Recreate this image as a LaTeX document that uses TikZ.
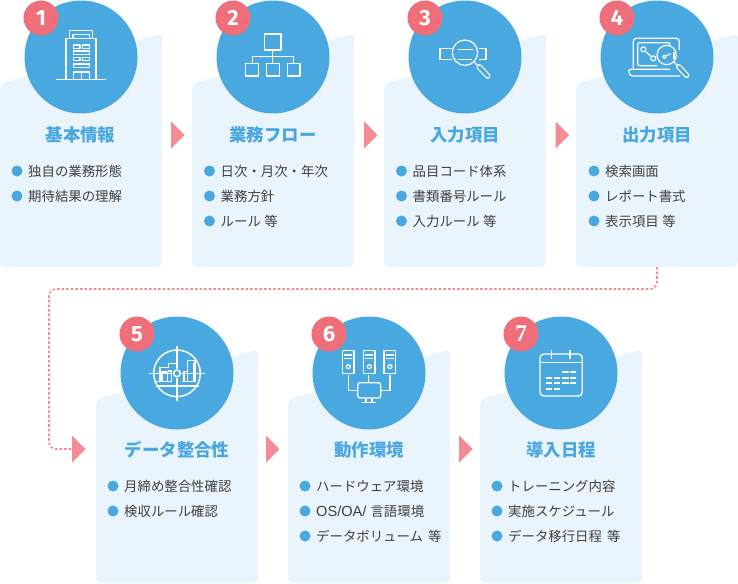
\documentclass[tikz,border=0pt]{standalone}
\usepackage{fontspec}
\setmainfont{Noto Sans CJK JP}
\newfontfamily\numfont{Fira Sans}
\newfontfamily\slabfont{Liberation Serif}
\newfontfamily\latinfont{Liberation Sans}
\definecolor{cardbg}{HTML}{EAF4FC}
\definecolor{mainblue}{HTML}{4AA8E0}
\definecolor{badgered}{HTML}{EE6F7A}
\definecolor{arrowpink}{HTML}{F48B95}
\definecolor{bodytext}{HTML}{3F3F3F}
\tikzset{
  cardshape/.style={fill=cardbg,rounded corners=5pt},
  bigdisc/.style={circle,fill=mainblue,minimum size=113pt,inner sep=0pt},
  badge/.style={circle,fill=badgered,minimum size=35pt,inner sep=0pt,text=white,font=\numfont\bfseries\fontsize{22}{22}\selectfont},
  titletext/.style={text=mainblue,font=\bfseries\fontsize{17.4}{20}\selectfont,inner sep=0pt},
  bullet/.style={circle,fill=mainblue,minimum size=11pt,inner sep=0pt},
  itemtext/.style={text=bodytext,font=\fontsize{13.4}{16}\selectfont,anchor=west,inner sep=0pt},
  flowarrow/.style={fill=arrowpink},
  dashline/.style={draw=arrowpink,line width=1.6pt,dash pattern=on 2.6pt off 2pt,rounded corners=7pt},
  iconline/.style={draw=white,line width=1.2pt,line join=round},
  zoomed/.style={x=0.33333pt,y=-0.33333pt},
}
\newcommand{\carda}[2]{\fill[cardshape] (#1,#2+84) -- (#1+162,#2+33) -- (#1+162,#2+267) -- (#1,#2+267) -- cycle;}
\newcommand{\flowtri}[2]{\fill[flowarrow] (#1,#2-13.5) -- (#1+13.5,#2) -- (#1,#2+13.5) -- cycle;}
\newcommand{\bulletrow}[4]{\node[bullet] (#1b) at (#2,#3) {}; \node[itemtext] (#1t) at (#2+11,#3) {#4};}
\begin{document}
\begin{tikzpicture}[x=1pt,y=-1pt]
\useasboundingbox (0,0) rectangle (738,583);
% cards
\carda{0}{0}\carda{192}{0}\carda{384}{0}\carda{576}{0}
\fill[cardshape] (96,400) -- (258,349) -- (258,583) -- (96,583) -- cycle;
\fill[cardshape] (288,400) -- (450,349) -- (450,583) -- (288,583) -- cycle;
\fill[cardshape] (480,400) -- (642,349) -- (642,583) -- (480,583) -- cycle;
% flow arrows
\flowtri{171}{135}\flowtri{364}{135}\flowtri{555.5}{135}
\flowtri{72}{449}\flowtri{266}{449}\flowtri{459}{449}
% dashed connector
\coordinate (c4) at (657,267);
\coordinate (turn) at (49,289);
\coordinate (a4) at (72,449);
\draw[dashline] (c4) |- (turn) |- (a4);
% discs
\node[bigdisc] (d1) at (81,57) {};
\node[bigdisc] (d2) at (273,57) {};
\node[bigdisc] (d3) at (465,57) {};
\node[bigdisc] (d4) at (657,57) {};
\node[bigdisc] (d5) at (177,373) {};
\node[bigdisc] (d6) at (369,373) {};
\node[bigdisc] (d7) at (561,373) {};
% badges
\node[badge] (b1) at (41,18) {1};
\node[badge] (b2) at (233,18) {2};
\node[badge] (b3) at (425,18) {3};
\node[badge] (b4) at (617,18) {4};
\node[badge] (b5) at (137,334) {5};
\node[badge] (b6) at (329,334) {6};
\node[badge,font=\slabfont\bfseries\fontsize{24}{24}\selectfont] (b7) at (521,334) {7};
% titles
\node[titletext] (t1) at (80.5,135) {基本情報};
\node[titletext] (t2) at (273,135) {業務フロー};
\node[titletext] (t3) at (465,135) {入力項目};
\node[titletext] (t4) at (657,135) {出力項目};
\node[titletext] (t5) at (177,450) {データ整合性};
\node[titletext] (t6) at (369,450) {動作環境};
\node[titletext] (t7) at (561,450) {導入日程};
% items
\bulletrow{i11}{17}{171}{独自の業務形態}
\bulletrow{i12}{17}{196}{期待結果の理解}
\bulletrow{i21}{209.5}{171}{日次・月次・年次}
\bulletrow{i22}{209.5}{196}{業務方針}
\bulletrow{i23}{209.5}{221}{ルール\hspace{3.5pt}等}
\bulletrow{i31}{401.5}{171}{品目コード体系}
\bulletrow{i32}{401.5}{196}{書類番号ルール}
\bulletrow{i33}{401.5}{221}{入力ルール\hspace{3.5pt}等}
\bulletrow{i41}{594}{171}{検索画面}
\bulletrow{i42}{594}{196}{レポート書式}
\bulletrow{i43}{594}{221}{表示項目\hspace{3.5pt}等}
\bulletrow{i51}{113}{486}{月締め整合性確認}
\bulletrow{i52}{113}{511}{検収ルール確認}
\bulletrow{i61}{305}{486}{ハードウェア環境}
\bulletrow{i62}{305}{511}{{\latinfont\fontsize{14.6}{16}\selectfont OS/OA/ }言語環境}
\bulletrow{i63}{305}{536}{データボリューム\hspace{5pt}等}
\bulletrow{i71}{497}{486}{トレーニング内容}
\bulletrow{i72}{497}{511}{実施スケジュール}
\bulletrow{i73}{497}{536}{データ移行日程\hspace{5pt}等}
% icon 1
\begin{scope}[zoomed,iconline]
\draw (168,238) -- (318,238);
\draw (198,238) -- (198,115) -- (208,115) -- (208,92) -- (278,92) -- (278,115) -- (288,115) -- (288,238);
\draw (208,115) -- (278,115);
\draw (219,103) rectangle (268,115);
\foreach \a/\b/\c/\d in {220/135/240/145,248/135/268/145,220/153/268/163,220/172/240/182,248/172/268/182,220/192/268/202,220/216/244/238,244/216/268/238}
  \draw (\a,\b) rectangle (\c,\d);
\end{scope}
% icon 2
\begin{scope}[shift={(200,0)},zoomed,iconline]
\draw[line width=1.5pt] (193,102) rectangle (243,150);
\draw (218,150) -- (218,190);
\draw (157,190) -- (157,170) -- (281,170) -- (281,190);
\foreach \a in {137,200,262} \draw[line width=1.4pt] (\a,190) rectangle (\a+38,228);
\end{scope}
% icon 3
\begin{scope}[shift={(400,0)},zoomed,iconline]
\draw (155,145) -- (120,145) -- (120,178) -- (155,178);
\draw (238,145) -- (258,145) -- (258,178) -- (238,178);
\draw (195,158) circle (38);
\draw (175,148) -- (218,148);
\draw (175,178) -- (215,178);
\draw (222,186) -- (234,197);
\draw[line width=5.6pt,line cap=round] (238,201) -- (263,228);
\draw[draw=mainblue,line width=3.2pt,line cap=round] (238,201) -- (263,228);
\end{scope}
% icon 4
\begin{scope}[shift={(570,0)},zoomed,iconline]
\draw[rounded corners=3pt] (190,205) -- (190,115) -- (328,115) -- (328,150);
\draw[rounded corners=2pt] (262,197) -- (203,197) -- (203,128) -- (300,128) -- (300,135);
\draw[rounded corners=2pt] (300,208) -- (175,208) -- (180,228) -- (330,228);
\draw (220,148) circle (7.5);
\draw (250,175) circle (7.5);
\draw (226,154) -- (244,170);
\draw (290,165) circle (29);
\draw (283,170) circle (5);
\draw (288,168) -- (302,161);
\draw (312,155) -- (312,178);
\draw[line width=5.4pt,line cap=round] (326,200) -- (350,226);
\draw[draw=mainblue,line width=3pt,line cap=round] (326,200) -- (350,226);
\draw (312,186) -- (321,195);
\end{scope}
% icon 5
\begin{scope}[shift={(100,310)},zoomed,iconline]
\draw (180,215) -- (180,172) -- (205,172) -- (205,160) -- (228,160);
\draw (262,215) -- (262,152) -- (285,152) -- (285,215);
\draw (186,215) rectangle (203,186);
\draw (166,215) -- (215,215) -- (215,183) -- (205,183);
\draw (245,215) -- (280,215);
\draw (252,215) -- (252,185) -- (262,185);
\draw (280,215) -- (280,160);
\draw (168,228) -- (298,228);
\draw[line width=1.5pt] (231,190) circle (70);
\draw[line width=1.5pt] (148,190) -- (315,190);
\draw[line width=1.5pt] (231,107) -- (231,176);
\draw[line width=1.5pt] (231,204) -- (231,273);
\fill[mainblue] (231,190) circle (14);
\draw[line width=1.5pt] (231,190) circle (10);
\end{scope}
% icon 6
\begin{scope}[shift={(290,310)},zoomed,iconline]
\foreach \a in {157,220,282} {
  \draw (\a,122) rectangle (\a+35,190);
  \draw (\a+6,135) -- (\a+29,135);
  \draw (\a+6,145) -- (\a+29,145);
  \draw (\a+18,170) circle (6);
}
\draw (175,195) -- (175,242) -- (203,242);
\draw (236,195) -- (236,218);
\draw (300,195) -- (300,242) -- (272,242);
\draw[rounded corners=2.5pt,line width=1.3pt] (203,218) rectangle (272,264);
\draw (228,264) -- (228,276);
\draw (246,264) -- (246,276);
\draw (216,278) -- (258,278);
\end{scope}
% icon 7
\begin{scope}[shift={(480,310)},zoomed,iconline]
\draw[rounded corners=4pt,line width=1.3pt] (180,132) rectangle (307,258);
\draw (180,158) -- (307,158);
\draw (215,120) -- (215,147);
\draw (270,120) -- (270,147);
\foreach \a/\b in {247/185,270/185,197/203,222/203,247/203,270/203,197/220,222/220,247/220,270/220,197/237,222/237}
  \draw[line width=1.8pt] (\a,\b) -- (\a+19,\b);
\end{scope}
\end{tikzpicture}
\end{document}
